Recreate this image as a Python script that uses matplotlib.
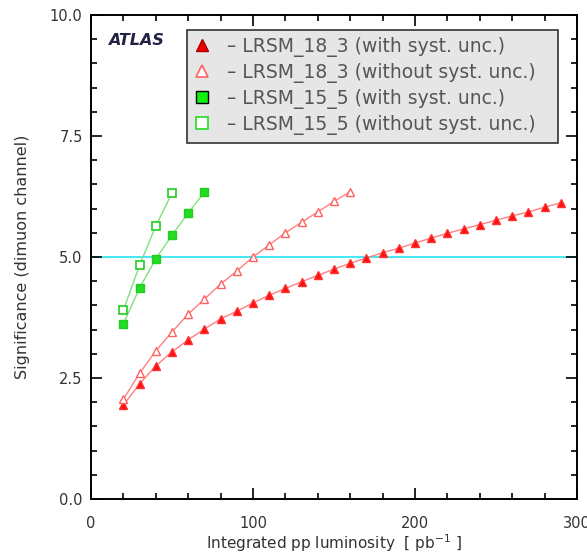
import matplotlib.pyplot as plt
from matplotlib.ticker import MultipleLocator
from matplotlib.lines import Line2D
from matplotlib.patches import Rectangle

# LRSM_18_3 with systematic uncertainty
lumi_18_sys = list(range(20, 300, 10))
sig_18_sys = [1.94, 2.38, 2.75, 3.04, 3.29, 3.51, 3.72, 3.88, 4.05, 4.21,
              4.35, 4.49, 4.62, 4.75, 4.87, 4.98, 5.09, 5.18, 5.29, 5.39,
              5.49, 5.58, 5.67, 5.76, 5.85, 5.93, 6.03, 6.12]

# LRSM_18_3 without systematic uncertainty
lumi_18_nosys = list(range(20, 170, 10))
sig_18_nosys = [2.06, 2.60, 3.06, 3.45, 3.82, 4.13, 4.44, 4.71, 5.00, 5.25,
                5.50, 5.72, 5.93, 6.15, 6.35]

# LRSM_15_5 with / without systematic uncertainty
lumi_15_sys = [20, 30, 40, 50, 60, 70]
sig_15_sys = [3.62, 4.36, 4.96, 5.45, 5.91, 6.34]
lumi_15_nosys = [20, 30, 40, 50]
sig_15_nosys = [3.90, 4.83, 5.64, 6.32]

labels = ["– LRSM_18_3 (with syst. unc.)",
          "– LRSM_18_3 (without syst. unc.)",
          "– LRSM_15_5 (with syst. unc.)",
          "– LRSM_15_5 (without syst. unc.)"]

plt.rcParams['font.family'] = ['DejaVu Sans']

fig = plt.figure(figsize=(5.87, 5.56), dpi=100)
ax = fig.add_axes([0.155, 0.1025, 0.828, 0.8705])

ax.axhline(5.0, color='#33e6f0', lw=1.3, zorder=1)

ax.plot(lumi_18_sys, sig_18_sys, '-', color='#ff8080', lw=1.0, marker='^',
        ms=5.5, mfc='#ff1010', mec='#ff3030')
ax.plot(lumi_18_nosys, sig_18_nosys, '-', color='#ff8080', lw=1.0, marker='^',
        ms=5.5, mfc='white', mec='#ff6060', mew=1.0)
ax.plot(lumi_15_sys, sig_15_sys, '-', color='#80e080', lw=1.0, marker='s',
        ms=6, mfc='#22dd22', mec='#22cc22')
ax.plot(lumi_15_nosys, sig_15_nosys, '-', color='#80e080', lw=1.0, marker='s',
        ms=6, mfc='white', mec='#22cc22', mew=1.2)

ax.set_xlim(0, 300)
ax.set_ylim(0, 10)
ax.xaxis.set_major_locator(MultipleLocator(100))
ax.xaxis.set_minor_locator(MultipleLocator(20))
ax.yaxis.set_major_locator(MultipleLocator(2.5))
ax.yaxis.set_minor_locator(MultipleLocator(0.5))
ax.yaxis.set_major_formatter(plt.FormatStrFormatter('%.1f'))
ax.tick_params(which='both', direction='in', top=True, right=True,
               labelsize=10.5, labelcolor='#333333', width=1.2)
ax.tick_params(which='major', length=8)
ax.tick_params(which='minor', length=4)
ax.tick_params(axis='x', which='major', pad=12)
ax.tick_params(axis='y', which='major', pad=6)
for s in ax.spines.values():
    s.set_linewidth(1.4)

ax.set_xlabel("Integrated pp luminosity  [ pb$^{-1}$ ]", fontsize=11,
              color='#333333', labelpad=1)
ax.set_ylabel("Significance (dimuon channel)", fontsize=11.5, color='#333333',
              labelpad=14)

ax.text(0.035, 0.962, "ATLAS", transform=ax.transAxes, fontsize=11.5,
        fontweight='bold', style='italic', color='#222244', va='top')

# legend box drawn by hand so it can be wider than the text
ax.add_patch(Rectangle((0.1975, 0.7355), 0.7635, 0.2335, transform=ax.transAxes,
                       facecolor='#e6e6e6', edgecolor='#333333', lw=1.2, zorder=4))

handles = [
    Line2D([], [], ls='none', marker='^', ms=9, mfc='#ee0000', mec='#aa0000'),
    Line2D([], [], ls='none', marker='^', ms=9, mfc='white', mec='#ff6060', mew=1.2),
    Line2D([], [], ls='none', marker='s', ms=8.5, mfc='#11ee11', mec='black'),
    Line2D([], [], ls='none', marker='s', ms=8.5, mfc='white', mec='#22dd22', mew=1.2),
]
leg = ax.legend(handles, labels, loc='upper left', bbox_to_anchor=(0.1975, 0.969),
                fontsize=13.5, frameon=False, handlelength=0.9,
                handletextpad=0.9, borderpad=0.35, labelspacing=0.32,
                borderaxespad=0)
leg.set_zorder(5)
for t in leg.get_texts():
    t.set_color('#555555')

fig.savefig('out.png', dpi=100)
